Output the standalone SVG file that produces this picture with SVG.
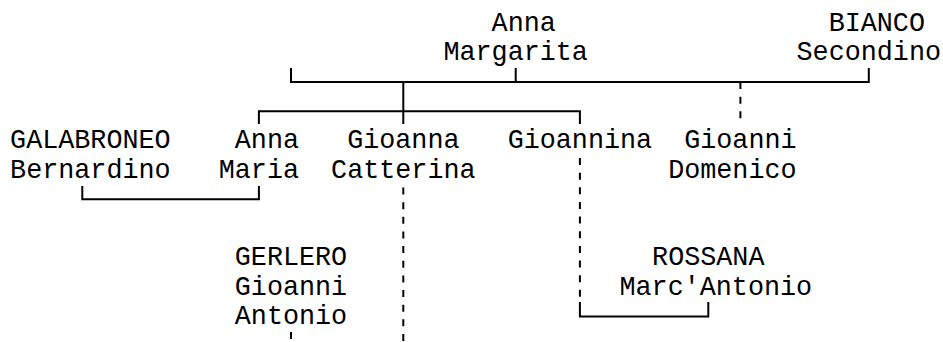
<svg xmlns="http://www.w3.org/2000/svg" width="943" height="342" viewBox="0 0 943 342">
<style>
text{font-family:"Liberation Mono","DejaVu Sans Mono",monospace;font-size:26.75px;fill:#000}
.s{fill:none;stroke:#000;stroke-width:2}
.d{fill:none;stroke:#000;stroke-width:2;stroke-dasharray:7 7.65}
</style>
<rect width="943" height="342" fill="#fff"/>
<g id="connectors">
<path class="s" d="M291 68V82H868.8V68M515.7 68V82"/>
<path class="s" d="M403.3 82V124"/>
<path class="s" d="M258.9 124V111.3H579.9V124"/>
<path class="d" d="M740.4 82V124"/>
<path class="s" d="M82.3 186V199.2H258.9V186"/>
<path class="d" d="M403.3 187.5V342"/>
<path class="d" d="M579.9 158V302"/>
<path class="s" d="M579.9 302V316.4H708.3V302"/>
<path class="d" d="M291 332V342"/>
</g>
<g id="n-anna-margarita"><text x="491.6" y="31">Anna</text><text x="443.45" y="60.3">Margarita</text></g>
<g id="n-bianco-secondino"><text x="828.65" y="31">BIANCO</text><text x="796.55" y="60.3">Secondino</text></g>
<g id="n-galabroneo-bernardino"><text x="10.1" y="148.2">GALABRONEO</text><text x="10.1" y="177.5">Bernardino</text></g>
<g id="n-anna-maria"><text x="234.8" y="148.2">Anna</text><text x="218.75" y="177.5">Maria</text></g>
<g id="n-gioanna-catterina"><text x="347.15" y="148.2">Gioanna</text><text x="331.1" y="177.5">Catterina</text></g>
<g id="n-gioannina"><text x="507.65" y="148.2">Gioannina</text></g>
<g id="n-gioanni-domenico"><text x="684.2" y="148.2">Gioanni</text><text x="668.15" y="177.5">Domenico</text></g>
<g id="n-gerlero"><text x="234.8" y="265.4">GERLERO</text><text x="234.8" y="294.7">Gioanni</text><text x="234.8" y="324">Antonio</text></g>
<g id="n-rossana"><text x="652.1" y="265.4">ROSSANA</text><text x="619.5" y="294.7">Marc'Antonio</text></g>
</svg>
